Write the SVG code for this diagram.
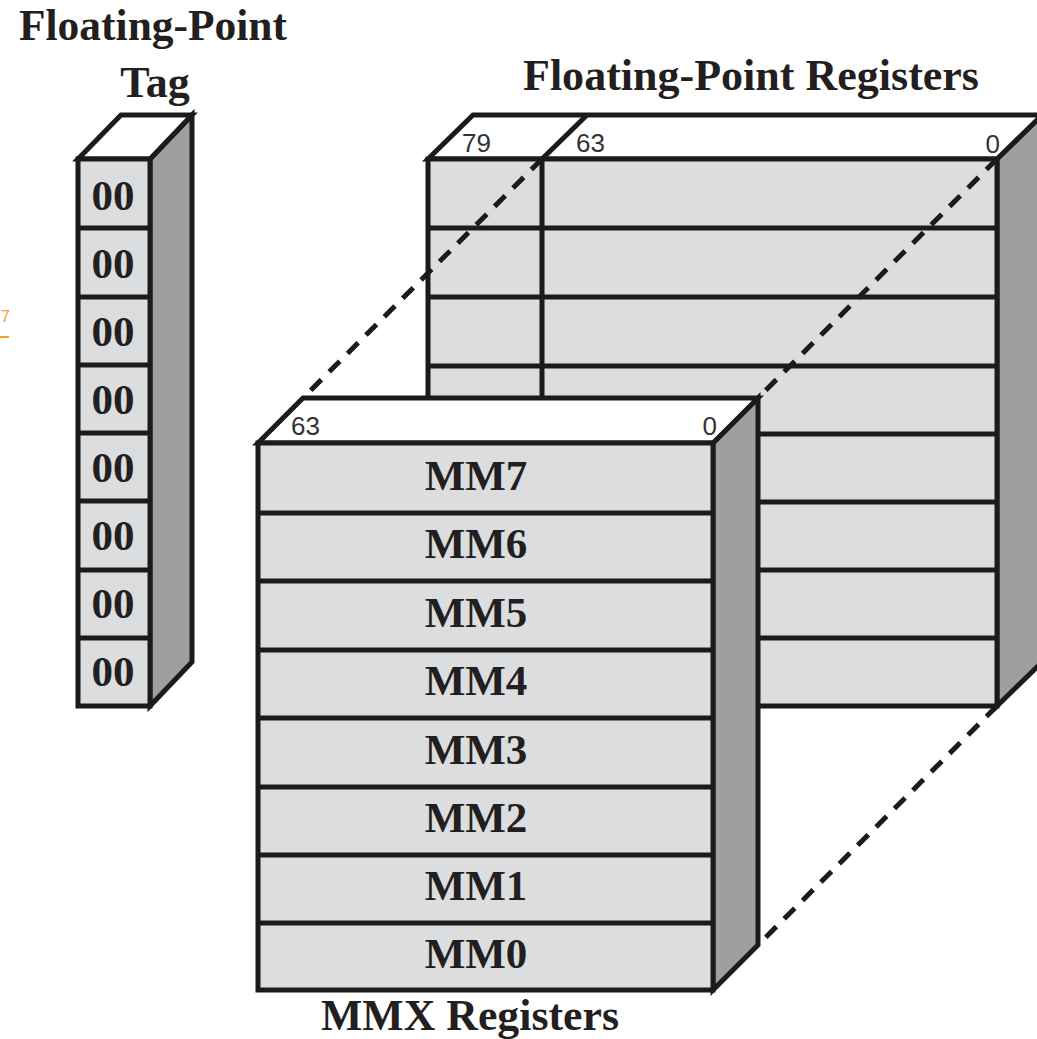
<svg xmlns="http://www.w3.org/2000/svg" width="1037" height="1039" viewBox="0 0 1037 1039">
<style>
.face{fill:#dcdddf;stroke:#1c1a1b;stroke-width:5;stroke-linejoin:miter}
.top{fill:#ffffff;stroke:#1c1a1b;stroke-width:5;stroke-linejoin:miter}
.side{fill:#9e9fa1;stroke:#1c1a1b;stroke-width:5;stroke-linejoin:miter}
.ln{stroke:#1c1a1b;stroke-width:5;fill:none}
.dash{stroke:#1c1a1b;stroke-width:5;fill:none;stroke-dasharray:15 11}
.title{font-family:"Liberation Serif","Times New Roman",serif;font-weight:bold;font-size:44px;fill:#231f20;text-anchor:middle}
.lab{font-family:"Liberation Serif","Times New Roman",serif;font-weight:bold;font-size:43px;fill:#231f20;text-anchor:middle}
.num{font-family:"Liberation Sans",Arial,sans-serif;font-size:26px;fill:#333333}
</style>
<rect width="1037" height="1039" fill="#ffffff"/>
<g id="link-fragment">
<text x="1" y="322" font-family="Liberation Sans,Arial,sans-serif" font-size="16" fill="#f5a020">7</text>
<line x1="0" y1="337" x2="9" y2="337" stroke="#f5a020" stroke-width="2"/>
</g>
<g id="titles">
<text class="title" x="153" y="40" textLength="268" lengthAdjust="spacingAndGlyphs">Floating-Point</text>
<text class="title" x="155" y="97">Tag</text>
<text class="title" x="751" y="90" textLength="456" lengthAdjust="spacingAndGlyphs">Floating-Point Registers</text>
<text class="title" x="470" y="1030" textLength="298" lengthAdjust="spacingAndGlyphs">MMX Registers</text>
</g>
<g id="fp-registers">
<polygon class="side" points="997,159 1042,115 1042,662 997,706"/>
<polygon class="top" points="428,159 473,115 1042,115 997,159"/>
<rect class="face" x="428" y="159" width="569" height="547"/>
<line class="ln" x1="542" y1="159" x2="587" y2="115"/>
<line class="ln" x1="542" y1="159" x2="542" y2="706"/>
<line class="ln" x1="428" y1="228" x2="997" y2="228"/>
<line class="ln" x1="428" y1="297" x2="997" y2="297"/>
<line class="ln" x1="428" y1="366" x2="997" y2="366"/>
<line class="ln" x1="428" y1="434" x2="997" y2="434"/>
<line class="ln" x1="428" y1="502" x2="997" y2="502"/>
<line class="ln" x1="428" y1="570" x2="997" y2="570"/>
<line class="ln" x1="428" y1="638" x2="997" y2="638"/>
<text class="num" x="462" y="152">79</text>
<text class="num" x="576" y="152">63</text>
<text class="num" x="1000" y="153" text-anchor="end">0</text>
</g>
<g id="connectors">
<line class="dash" x1="542" y1="159" x2="303" y2="398"/>
<line class="dash" x1="997" y1="159" x2="758" y2="398"/>
<line class="dash" x1="997" y1="706" x2="758" y2="945"/>
</g>
<g id="mmx-registers">
<polygon class="side" points="713,443 758,398 758,945 713,990"/>
<polygon class="top" points="258,443 303,398 758,398 713,443"/>
<rect class="face" x="258" y="443" width="455" height="547"/>
<line class="ln" x1="258" y1="513" x2="713" y2="513"/>
<line class="ln" x1="258" y1="581" x2="713" y2="581"/>
<line class="ln" x1="258" y1="650" x2="713" y2="650"/>
<line class="ln" x1="258" y1="718" x2="713" y2="718"/>
<line class="ln" x1="258" y1="787" x2="713" y2="787"/>
<line class="ln" x1="258" y1="855" x2="713" y2="855"/>
<line class="ln" x1="258" y1="923" x2="713" y2="923"/>
<text class="num" x="291" y="435">63</text>
<text class="num" x="717" y="435" text-anchor="end">0</text>
<text class="lab" x="476" y="490">MM7</text>
<text class="lab" x="476" y="558">MM6</text>
<text class="lab" x="476" y="627">MM5</text>
<text class="lab" x="476" y="695">MM4</text>
<text class="lab" x="476" y="764">MM3</text>
<text class="lab" x="476" y="832">MM2</text>
<text class="lab" x="476" y="900">MM1</text>
<text class="lab" x="476" y="968">MM0</text>
</g>
<g id="fp-tag">
<polygon class="side" points="150,159 192,115 192,662 150,706"/>
<polygon class="top" points="78,159 121,115 192,115 150,159"/>
<rect class="face" x="78" y="159" width="72" height="547"/>
<line class="ln" x1="78" y1="228" x2="150" y2="228"/>
<line class="ln" x1="78" y1="297" x2="150" y2="297"/>
<line class="ln" x1="78" y1="365" x2="150" y2="365"/>
<line class="ln" x1="78" y1="433" x2="150" y2="433"/>
<line class="ln" x1="78" y1="501" x2="150" y2="501"/>
<line class="ln" x1="78" y1="570" x2="150" y2="570"/>
<line class="ln" x1="78" y1="638" x2="150" y2="638"/>
<text class="lab" x="113" y="210">00</text>
<text class="lab" x="113" y="278">00</text>
<text class="lab" x="113" y="346">00</text>
<text class="lab" x="113" y="414">00</text>
<text class="lab" x="113" y="482">00</text>
<text class="lab" x="113" y="550">00</text>
<text class="lab" x="113" y="618">00</text>
<text class="lab" x="113" y="686">00</text>
</g>
</svg>
